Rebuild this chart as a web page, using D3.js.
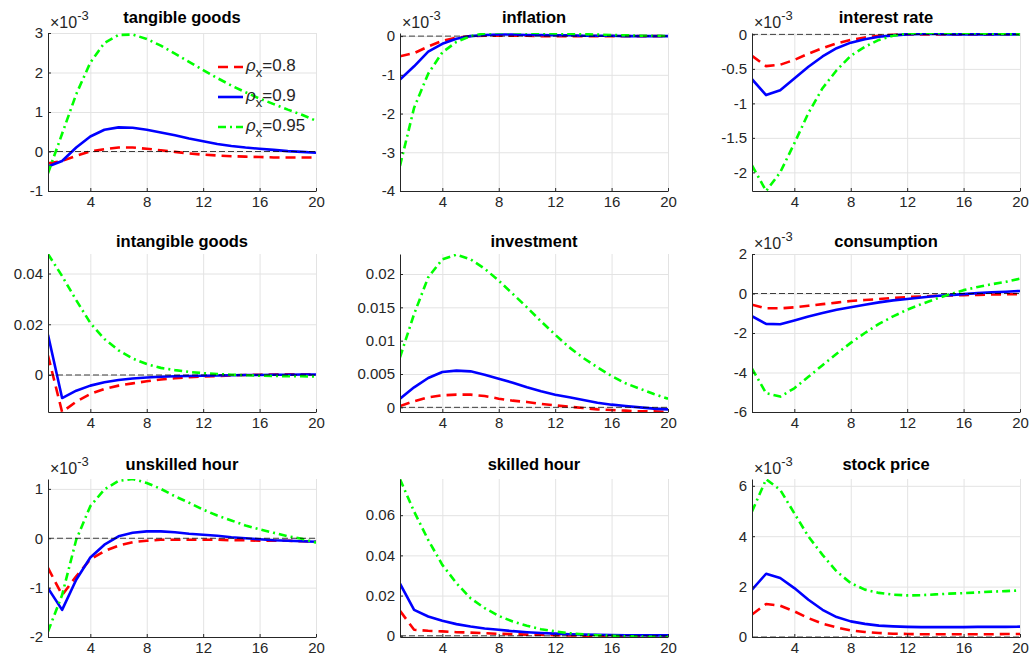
<!DOCTYPE html>
<html>
<head>
<meta charset="utf-8">
<script src="https://cdn.jsdelivr.net/npm/d3@7"></script>
<style>
  body { margin: 0; background: #fff; }
</style>
</head>
<body>
<div id="chart"></div>
<script>
// periods of the impulse responses
const periods = [1, 2, 3, 4, 5, 6, 7, 8, 9, 10, 11, 12, 13, 14, 15, 16, 17, 18, 19, 20];
const xTicks = [4, 8, 12, 16, 20];
const rhoLabels = ["0.8", "0.9", "0.95"];

// tangible goods (x10^-3)
const tangible08 = [-0.3, -0.24, -0.11, 0.0, 0.06, 0.1, 0.1, 0.07, 0.03, -0.01, -0.05, -0.08, -0.1, -0.12, -0.13, -0.14, -0.15, -0.15, -0.15, -0.15];
const tangible09 = [-0.38, -0.24, 0.1, 0.38, 0.55, 0.61, 0.6, 0.55, 0.48, 0.41, 0.33, 0.26, 0.19, 0.14, 0.1, 0.07, 0.04, 0.01, -0.01, -0.03];
const tangible095 = [-0.55, 0.45, 1.45, 2.25, 2.75, 2.95, 2.96, 2.85, 2.68, 2.48, 2.27, 2.06, 1.86, 1.67, 1.5, 1.34, 1.2, 1.06, 0.93, 0.78];

// inflation (x10^-3)
const inflation08 = [-0.52, -0.44, -0.27, -0.12, -0.04, 0.0, 0.01, 0.01, 0.01, 0.01, 0.0, 0.0, 0.0, 0.0, 0.0, 0.0, 0.0, 0.0, 0.0, 0.0];
const inflation09 = [-1.12, -0.78, -0.4, -0.2, -0.07, 0.0, 0.03, 0.04, 0.04, 0.03, 0.03, 0.02, 0.02, 0.01, 0.01, 0.01, 0.0, 0.0, 0.0, 0.0];
const inflation095 = [-3.35, -1.85, -0.97, -0.42, -0.15, 0.0, 0.07, 0.1, 0.1, 0.09, 0.08, 0.07, 0.06, 0.05, 0.04, 0.03, 0.02, 0.01, 0.01, 0.0];

// interest rate (x10^-3)
const interest08 = [-0.31, -0.46, -0.44, -0.37, -0.28, -0.2, -0.13, -0.08, -0.045, -0.02, -0.005, 0.0, 0.0, 0.0, 0.0, 0.0, 0.0, 0.0, 0.0, 0.0];
const interest09 = [-0.65, -0.88, -0.81, -0.64, -0.47, -0.32, -0.2, -0.12, -0.07, -0.035, -0.015, 0.0, 0.005, 0.005, 0.0, 0.0, 0.0, 0.0, 0.0, 0.0];
const interest095 = [-1.9, -2.27, -2.0, -1.58, -1.14, -0.78, -0.52, -0.31, -0.18, -0.08, -0.02, 0.015, 0.02, 0.02, 0.02, 0.02, 0.015, 0.01, 0.005, 0.0];

// intangible goods
const intangible08 = [0.0077, -0.0146, -0.0105, -0.0075, -0.0055, -0.0042, -0.0033, -0.0025, -0.0018, -0.0013, -0.0009, -0.0006, -0.0004, -0.0002, 0.0, 0.0001, 0.0002, 0.0003, 0.0003, 0.0003];
const intangible09 = [0.0158, -0.0091, -0.0062, -0.0042, -0.0029, -0.002, -0.0014, -0.001, -0.0007, -0.0005, -0.0004, -0.0003, -0.0002, -0.0001, 0.0, 0.0, 0.0001, 0.0001, 0.0002, 0.0002];
const intangible095 = [0.0477, 0.039, 0.0295, 0.0205, 0.0142, 0.0097, 0.0065, 0.0043, 0.0028, 0.0019, 0.0012, 0.0007, 0.0004, 0.0001, -0.0001, -0.0003, -0.0004, -0.0005, -0.0005, -0.0006];

// investment
const investment08 = [0.0002, 0.0009, 0.0015, 0.0018, 0.0019, 0.0019, 0.0017, 0.0013, 0.001, 0.0008, 0.0005, 0.0003, 0.0001, -0.0001, -0.0003, -0.0004, -0.0005, -0.0006, -0.0006, -0.0007];
const investment09 = [0.0013, 0.003, 0.0044, 0.0053, 0.0055, 0.0054, 0.0049, 0.0043, 0.0037, 0.003, 0.0024, 0.0019, 0.0015, 0.0011, 0.0007, 0.0004, 0.0002, 0.0, -0.0002, -0.0003];
const investment095 = [0.0075, 0.014, 0.0195, 0.0222, 0.0229, 0.0222, 0.0208, 0.019, 0.017, 0.015, 0.0129, 0.0109, 0.009, 0.0074, 0.006, 0.0047, 0.0036, 0.0028, 0.002, 0.0013];

// consumption (x10^-3)
const consumption08 = [-0.57, -0.75, -0.75, -0.7, -0.62, -0.54, -0.46, -0.38, -0.33, -0.28, -0.23, -0.18, -0.15, -0.12, -0.1, -0.08, -0.07, -0.05, -0.04, -0.03];
const consumption09 = [-1.15, -1.54, -1.56, -1.37, -1.17, -0.99, -0.82, -0.7, -0.57, -0.45, -0.35, -0.28, -0.2, -0.13, -0.08, -0.03, 0.02, 0.06, 0.09, 0.13];
const consumption095 = [-3.8, -5.05, -5.22, -4.8, -4.22, -3.63, -3.05, -2.5, -2.0, -1.54, -1.16, -0.82, -0.54, -0.28, -0.05, 0.17, 0.33, 0.47, 0.59, 0.75];

// unskilled hour (x10^-3)
const unskilled08 = [-0.6, -1.15, -0.77, -0.43, -0.26, -0.15, -0.08, -0.05, -0.03, -0.03, -0.03, -0.03, -0.03, -0.04, -0.04, -0.05, -0.05, -0.05, -0.06, -0.07];
const unskilled09 = [-1.01, -1.45, -0.84, -0.39, -0.13, 0.04, 0.11, 0.14, 0.14, 0.12, 0.09, 0.07, 0.05, 0.02, 0.0, -0.02, -0.04, -0.05, -0.06, -0.07];
const unskilled095 = [-1.89, -1.15, -0.03, 0.65, 0.99, 1.16, 1.2, 1.12, 1.0, 0.85, 0.72, 0.58, 0.46, 0.36, 0.26, 0.18, 0.11, 0.04, -0.01, -0.09];

// skilled hour
const skilled08 = [0.0124, 0.003, 0.0025, 0.0022, 0.0018, 0.0016, 0.0013, 0.001, 0.0008, 0.0006, 0.0005, 0.0003, 0.0002, 0.0001, 0.0, 0.0, 0.0, 0.0, 0.0, 0.0];
const skilled09 = [0.0259, 0.0129, 0.0096, 0.0075, 0.0058, 0.0046, 0.0036, 0.003, 0.0023, 0.0018, 0.0014, 0.0011, 0.0008, 0.0006, 0.0005, 0.0004, 0.0003, 0.0003, 0.0002, 0.0002];
const skilled095 = [0.0779, 0.0618, 0.0477, 0.0353, 0.0262, 0.0187, 0.0138, 0.0099, 0.0071, 0.005, 0.0033, 0.0022, 0.0013, 0.0007, 0.0003, 0.0, -0.0002, -0.0004, -0.0005, -0.0006];

// stock price (x10^-3)
const stock08 = [0.89, 1.31, 1.24, 1.02, 0.75, 0.53, 0.38, 0.26, 0.2, 0.16, 0.13, 0.12, 0.11, 0.11, 0.11, 0.11, 0.11, 0.11, 0.12, 0.12];
const stock09 = [1.88, 2.51, 2.34, 1.94, 1.48, 1.08, 0.79, 0.62, 0.52, 0.45, 0.42, 0.4, 0.39, 0.39, 0.39, 0.39, 0.4, 0.4, 0.4, 0.41];
const stock095 = [4.98, 6.26, 5.84, 4.91, 3.99, 3.26, 2.6, 2.14, 1.88, 1.75, 1.68, 1.65, 1.66, 1.69, 1.72, 1.74, 1.77, 1.8, 1.82, 1.85];

const panels = [
    { title: "tangible goods", exp: true, yDomain: [-1, 3], yTicks: [-1, 0, 1, 2, 3], series: [tangible08, tangible09, tangible095] },
    { title: "inflation", exp: true, yDomain: [-4, 0.08], yTicks: [-4, -3, -2, -1, 0], series: [inflation08, inflation09, inflation095] },
    { title: "interest rate", exp: true, yDomain: [-2.27, 0.02], yTicks: [-2, -1.5, -1, -0.5, 0], series: [interest08, interest09, interest095] },
    { title: "intangible goods", exp: false, yDomain: [-0.0146, 0.0477], yTicks: [0, 0.02, 0.04], series: [intangible08, intangible09, intangible095] },
    { title: "investment", exp: false, yDomain: [-0.0007, 0.023], yTicks: [0, 0.005, 0.01, 0.015, 0.02], series: [investment08, investment09, investment095] },
    { title: "consumption", exp: true, yDomain: [-6, 2], yTicks: [-6, -4, -2, 0, 2], series: [consumption08, consumption09, consumption095] },
    { title: "unskilled hour", exp: true, yDomain: [-2, 1.2], yTicks: [-2, -1, 0, 1], series: [unskilled08, unskilled09, unskilled095] },
    { title: "skilled hour", exp: false, yDomain: [-0.0006, 0.078], yTicks: [0, 0.02, 0.04, 0.06], series: [skilled08, skilled09, skilled095] },
    { title: "stock price", exp: true, yDomain: [0, 6.27], yTicks: [0, 2, 4, 6], series: [stock08, stock09, stock095] }
];

// Layout
const width = 1033;
const height = 662;
const colLeft = [48, 400, 752];
const rowTop = [33, 254, 479];
const titleY = [23, 246.5, 469.5];
const plotW = 268;
const plotH = 158;
const FONT = "'Liberation Sans', Arial, Helvetica, sans-serif";
const textColor = "#262626";

const colors = ["#ff0000", "#0000ff", "#00ff00"];
const dashes = ["10,6", null, "8,4,2,4"];

const svg = d3.select("#chart")
              .append("svg")
              .attr("width", width)
              .attr("height", height)
              .style("font-family", FONT);

svg.append("rect").attr("width", width).attr("height", height).attr("fill", "#fff");

panels.forEach((p, i) => {
    const left = colLeft[i % 3];
    const top = rowTop[Math.floor(i / 3)];
    const g = svg.append("g").attr("transform", `translate(${left},${top})`);

    const x = d3.scaleLinear().domain([1, 20]).range([0, plotW]);
    const y = d3.scaleLinear().domain(p.yDomain).range([plotH, 0]);

    // grid
    g.append("g")
     .call(d3.axisLeft(y).tickValues(p.yTicks).tickSize(-plotW).tickFormat(""))
     .call(s => s.select(".domain").remove())
     .selectAll("line").attr("stroke", "#e3e3e3");
    g.append("g")
     .attr("transform", `translate(0,${plotH})`)
     .call(d3.axisBottom(x).tickValues(xTicks).tickSize(-plotH).tickFormat(""))
     .call(s => s.select(".domain").remove())
     .selectAll("line").attr("stroke", "#e3e3e3");

    // clip
    const clipId = "clip" + i;
    g.append("clipPath").attr("id", clipId)
     .append("rect").attr("width", plotW).attr("height", plotH);

    const line = d3.line()
                   .x((d, j) => x(periods[j]))
                   .y(d => y(d));

    const plot = g.append("g").attr("clip-path", `url(#${clipId})`);
    p.series.forEach((s, k) => {
        plot.append("path")
            .datum(s)
            .attr("d", line)
            .attr("fill", "none")
            .attr("stroke", colors[k])
            .attr("stroke-width", 2.6)
            .attr("stroke-linejoin", "round")
            .attr("stroke-dasharray", dashes[k]);
    });

    // zero line
    plot.append("line")
        .attr("x1", x(1)).attr("x2", x(20))
        .attr("y1", y(0)).attr("y2", y(0))
        .attr("stroke", "#000")
        .attr("stroke-opacity", 0.75)
        .attr("stroke-width", 1)
        .attr("stroke-dasharray", "6,3");

    // axes
    const yAxis = d3.axisLeft(y).tickValues(p.yTicks)
                    .tickSizeInner(-3).tickSizeOuter(0).tickPadding(5)
                    .tickFormat(d => String(d));
    g.append("g")
     .call(yAxis)
     .call(s => s.selectAll("text").attr("font-size", 15).attr("fill", textColor).attr("font-family", FONT))
     .call(s => s.selectAll("line, path").attr("stroke", textColor));

    const xAxis = d3.axisBottom(x).tickValues(xTicks)
                    .tickSizeInner(-3).tickSizeOuter(0).tickPadding(5)
                    .tickFormat(d => String(d));
    g.append("g")
     .attr("transform", `translate(0,${plotH})`)
     .call(xAxis)
     .call(s => s.selectAll("text").attr("font-size", 15).attr("fill", textColor).attr("font-family", FONT))
     .call(s => s.selectAll("line, path").attr("stroke", textColor));

    // exponent label
    if (p.exp) {
        const t = g.append("text")
                   .attr("x", 2)
                   .attr("y", -5)
                   .attr("font-size", 16)
                   .attr("fill", textColor)
                   .text("\u00d710");
        t.append("tspan").attr("font-size", 13).attr("dy", -8).text("-3");
    }

    // title
    svg.append("text")
       .attr("x", left + plotW / 2)
       .attr("y", titleY[Math.floor(i / 3)])
       .attr("text-anchor", "middle")
       .attr("font-size", 16.5)
       .attr("font-weight", "bold")
       .attr("fill", "#000")
       .text(p.title);

    // legend in first panel
    if (i === 0) {
        const legend = g.append("g").attr("transform", "translate(170,34)");
        rhoLabels.forEach((lab, k) => {
            const row = legend.append("g").attr("transform", `translate(0,${k * 30})`);
            row.append("line")
               .attr("x1", 0).attr("x2", 25)
               .attr("stroke", colors[k])
               .attr("stroke-width", 2.6)
               .attr("stroke-dasharray", dashes[k]);
            const txt = row.append("text")
                           .attr("x", 28)
                           .attr("y", 4)
                           .attr("font-size", 17)
                           .attr("fill", textColor);
            txt.append("tspan").attr("font-style", "italic").text("\u03c1");
            txt.append("tspan").attr("font-size", 13).attr("dy", 5.5).text("x");
            txt.append("tspan").attr("dy", -5.5).text("=" + lab);
        });
    }
});
</script>
</body>
</html>
